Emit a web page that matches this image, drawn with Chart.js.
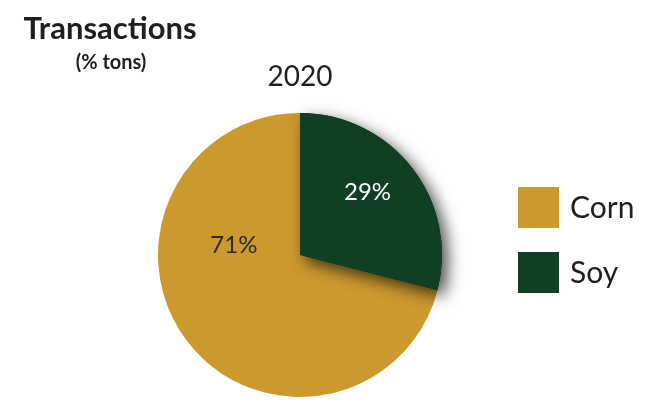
<!DOCTYPE html>
<html>
<head>
<meta charset="utf-8">
<script src="https://cdn.jsdelivr.net/npm/chart.js@4"></script>
<style>
  html, body { margin: 0; padding: 0; background: #fff; }
  #wrap { width: 652px; height: 403px; position: relative; }
</style>
</head>
<body>
<div id="wrap"><canvas id="pie"></canvas></div>
<script>
const labels = ['Corn', 'Soy']
const values = [71, 29]
const colors = ['#CC992E', '#0F4023']
const labelColors = ['#2b2b2b', '#ffffff']
// where each % label sits: angle clockwise from top (deg), fraction of radius
const labelAngles = [278, 47]
const labelDist = [0.47, 0.65]

const FONT = 'Lato, "Open Sans", sans-serif'
const total = values.reduce((a, b) => a + b, 0)

const extras = {
  id: 'extras',
  afterDatasetsDraw(chart) {
    const ctx = chart.ctx
    const meta = chart.getDatasetMeta(0)
    // shadow under the soy slice
    ctx.save()
    ctx.shadowColor = 'rgba(0,0,0,0.7)'
    ctx.shadowBlur = 16
    ctx.shadowOffsetX = 6
    ctx.shadowOffsetY = 6
    meta.data[1].draw(ctx)
    ctx.restore()

    // percent labels
    const arc = meta.data[0]
    ctx.save()
    ctx.font = '24px ' + FONT
    ctx.textAlign = 'center'
    ctx.textBaseline = 'middle'
    values.forEach((v, i) => {
      const a = labelAngles[i] * Math.PI / 180
      const r = arc.outerRadius * labelDist[i]
      ctx.fillStyle = labelColors[i]
      ctx.fillText(v + '%', arc.x + r * Math.sin(a), arc.y - r * Math.cos(a))
    })
    ctx.restore()
  },
  afterDraw(chart) {
    const ctx = chart.ctx
    ctx.save()
    ctx.fillStyle = '#1f1f1f'
    ctx.textBaseline = 'alphabetic'
    ctx.textAlign = 'center'
    ctx.font = 'bold 31px ' + FONT
    ctx.fillText('Transactions', 110, 39)
    ctx.font = 'bold 20px ' + FONT
    ctx.fillText('(% tons)', 111, 69)
    ctx.font = '28px ' + FONT
    ctx.fillText('2020', 300, 86)

    // legend
    ctx.textAlign = 'left'
    ctx.font = '30px ' + FONT
    labels.forEach((l, i) => {
      const y = 187 + i * 65
      ctx.fillStyle = colors[i]
      ctx.fillRect(518, y, 41, 41)
      ctx.fillStyle = '#1f1f1f'
      ctx.fillText(l, 570, y + 31)
    })
    ctx.restore()
  }
}

new Chart('pie', {
  type: 'pie',
  data: {
    labels: labels,
    datasets: [{
      data: values,
      backgroundColor: colors,
      borderWidth: 0
    }]
  },
  options: {
    responsive: true,
    maintainAspectRatio: false,
    animation: false,
    rotation: values[1] / total * 360,
    layout: { padding: { top: 113, bottom: 6, left: 158, right: 210 } },
    plugins: {
      legend: { display: false },
      tooltip: { enabled: false }
    }
  },
  plugins: [extras]
})
</script>
</body>
</html>
